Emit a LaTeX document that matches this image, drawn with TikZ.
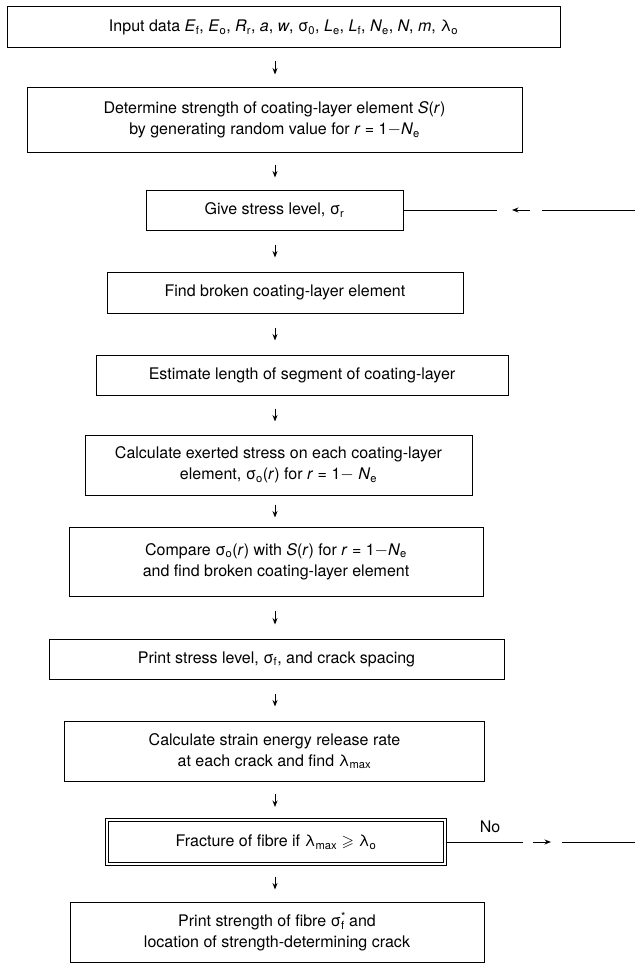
\documentclass[tikz,border=0pt]{standalone}
\usepackage{amssymb}
\usepackage{fontspec}
\setmainfont{TeX Gyre Heros}
\usetikzlibrary{arrows.meta}

\newcommand{\vsub}[2]{\textit{#1}\textsubscript{#2}}

\begin{document}
\begin{tikzpicture}[x=1pt, y=-1pt, line width=1pt,
    main/.style = {draw, rectangle, inner sep=0pt, align=center,
                   font=\fontsize{16}{21}\selectfont},
    tip/.style = {-{Stealth[length=6.5pt,width=5pt]}},
    flow/.style = {tip, shorten <=#1, shorten >=#1}]
    \useasboundingbox (0,0) rectangle (635,963);
    \node[main, minimum width=553pt, minimum height=41pt] (1) at (283.5,27.5)
        {Input data \vsub{E}{f}, \vsub{E}{o}, \vsub{R}{r}, \textit{a}, \textit{w}, σ\textsubscript{0}, \vsub{L}{e}, \vsub{L}{f}, \vsub{N}{e}, \textit{N}, \textit{m}, λ\textsubscript{o}};
    \node[main, minimum width=495pt, minimum height=64pt] (2) at (274.5,120)
        {Determine strength of coating-layer element \textit{S}(\textit{r})\\
         by generating random value for \textit{r} = 1$-$\vsub{N}{e}};
    \node[main, minimum width=257pt, minimum height=40pt] (3) at (274.5,210)
        {Give stress level, σ\textsubscript{r}};
    \node[main, minimum width=356pt, minimum height=41pt] (4) at (285,292.5)
        {Find broken coating-layer element};
    \node[main, minimum width=412pt, minimum height=40pt] (5) at (302,375)
        {Estimate length of segment of coating-layer};
    \node[main, minimum width=387pt, minimum height=60pt] (6) at (278.5,465)
        {Calculate exerted stress on each coating-layer\\
         element, σ\textsubscript{o}(\textit{r}) for \textit{r} = 1$-$ \vsub{N}{e}};
    \node[main, minimum width=414pt, minimum height=69pt] (7) at (276,561.5)
        {Compare σ\textsubscript{o}(\textit{r}) with \textit{S}(\textit{r}) for \textit{r} = 1$-$\vsub{N}{e}\\
         and find broken coating-layer element};
    \node[main, minimum width=455pt, minimum height=40pt] (8) at (276.5,659)
        {Print stress level, σ\textsubscript{f}, and crack spacing};
    \node[main, minimum width=420pt, minimum height=60pt] (9) at (274.5,751)
        {Calculate strain energy release rate\\
         at each crack and find λ\textsubscript{max}};
    \node[main, double, double distance=2.5pt, minimum width=338pt, minimum height=44pt] (10) at (276,842)
        {Fracture of fibre if λ\textsubscript{max} $\geqslant$ λ\textsubscript{o}};
    \node[main, minimum width=414pt, minimum height=60pt] (11) at (277,932)
        {Print strength of fibre σ\rlap{\textsuperscript{*}}\textsubscript{f} and\\
         location of strength-determining crack};
    \node[font=\fontsize{16}{21}\selectfont] (no) at (490,827) {No};
    % arrows down the middle
    \coordinate (ax) at (275,0);
    \draw[flow=13pt] (1.south -| ax) -- (2.north -| ax);
    \draw[flow=12pt] (2.south -| ax) -- (3.north -| ax);
    \draw[flow=14pt] (3.south -| ax) -- (4.north -| ax);
    \draw[flow=14pt] (4.south -| ax) -- (5.north -| ax);
    \draw[flow=13pt] (5.south -| ax) -- (6.north -| ax);
    \draw[flow=9pt] (6.south -| ax) -- (7.north -| ax);
    \draw[flow=14pt] (7.south -| ax) -- (8.north -| ax);
    \draw[flow=14pt] (8.south -| ax) -- (9.north -| ax);
    \draw[flow=12.5pt] (9.south -| ax) -- (10.north -| ax);
    \draw[flow=12pt] (10.south -| ax) -- (11.north -| ax);
    % loop back in at stress level
    \coordinate (in1) at (497,210);
    \coordinate (in2) at (530,210);
    \coordinate (in3) at (512,210);
    \coordinate (in4) at (542,210);
    \coordinate (in5) at (635,210);
    \draw (3.east) -- (in1);
    \draw[tip] (in2) -- (in3);
    \draw (in4) -- (in5);
    % no fracture, go round again
    \coordinate (out1) at (523,842);
    \coordinate (out2) at (533,842);
    \coordinate (out3) at (551,842);
    \coordinate (out4) at (562,842);
    \coordinate (out5) at (635,842);
    \draw (10.east) -- (out1);
    \draw[tip] (out2) -- (out3);
    \draw (out4) -- (out5);
\end{tikzpicture}
\end{document}
